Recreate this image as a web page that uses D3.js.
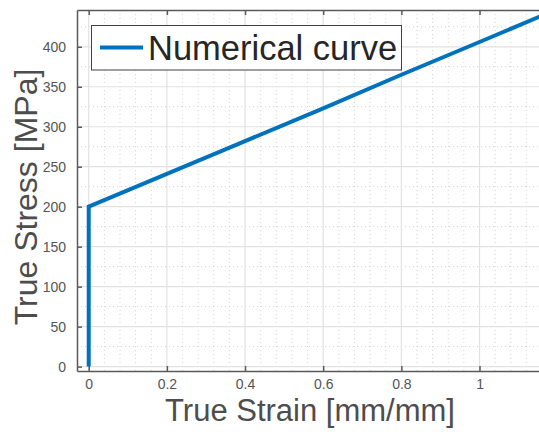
<!DOCTYPE html>
<html>
<head>
<meta charset="utf-8">
<script src="https://cdn.jsdelivr.net/npm/d3@7"></script>
<style>
  html, body { margin: 0; padding: 0; background: #fff; }
  svg { display: block; font-family: "Liberation Sans", Arial, sans-serif; }
</style>
</head>
<body>
<svg id="chart" width="539" height="432"></svg>
<script>
// Stress-strain curve data
const strain = [0, 0, 0.2, 0.4, 0.6, 0.8, 1.0, 1.16];
const stress = [0, 200, 241, 282, 323, 365, 406, 439];

const xTicks = [0, 0.2, 0.4, 0.6, 0.8, 1];
const yTicks = [0, 50, 100, 150, 200, 250, 300, 350, 400];
const xTickLabels = ["0", "0.2", "0.4", "0.6", "0.8", "1"];
const yTickLabels = ["0", "50", "100", "150", "200", "250", "300", "350", "400"];
const legendLabel = "Numerical curve";
const xTitle = "True Strain [mm/mm]";
const yTitle = "True Stress [MPa]";

const svg = d3.select("#chart");
const plotL = 77, plotR = 544, plotT = 10, plotB = 371;

const x = d3.scaleLinear().domain([-0.03, 1.165]).range([plotL, plotR]);
const y = d3.scaleLinear().domain([-5.5, 446]).range([plotB, plotT]);

const xMinor = d3.range(0, 1.17, 0.04).filter(v => !xTicks.some(t => Math.abs(t - v) < 1e-6));
const yMinor = d3.range(0, 446, 25).filter(v => v % 50 !== 0);

const grid = svg.append("g");
// minor grid (dotted)
grid.selectAll("line.xm").data(xMinor).join("line")
  .attr("x1", d => x(d)).attr("x2", d => x(d)).attr("y1", plotT).attr("y2", plotB)
  .attr("stroke", "#d4d4d4").attr("stroke-width", 1).attr("stroke-dasharray", "1,3");
grid.selectAll("line.ym").data(yMinor).join("line")
  .attr("y1", d => y(d)).attr("y2", d => y(d)).attr("x1", plotL).attr("x2", plotR)
  .attr("stroke", "#d4d4d4").attr("stroke-width", 1).attr("stroke-dasharray", "1,3");
// major grid
grid.selectAll("line.xg").data(xTicks).join("line")
  .attr("x1", d => x(d)).attr("x2", d => x(d)).attr("y1", plotT).attr("y2", plotB)
  .attr("stroke", "#e2e2e2").attr("stroke-width", 1.2);
grid.selectAll("line.yg").data(yTicks).join("line")
  .attr("y1", d => y(d)).attr("y2", d => y(d)).attr("x1", plotL).attr("x2", plotR)
  .attr("stroke", "#e2e2e2").attr("stroke-width", 1.2);

// axes
const axisColor = "#5a5a5a";
const xAxis = d3.axisBottom(x).tickValues(xTicks)
  .tickFormat((d, i) => xTickLabels[i]).tickSizeInner(-5).tickSizeOuter(0).tickPadding(8);
const yAxis = d3.axisLeft(y).tickValues(yTicks)
  .tickFormat((d, i) => yTickLabels[i]).tickSizeInner(-5).tickSizeOuter(0).tickPadding(11);
const xTop = d3.axisTop(x).tickValues(xTicks).tickFormat("").tickSizeInner(-5).tickSizeOuter(0);

function styleAxis(g) {
  g.select(".domain").attr("stroke", axisColor).attr("stroke-width", 1.5);
  g.selectAll(".tick line").attr("stroke", axisColor).attr("stroke-width", 1.5);
  g.selectAll(".tick text").attr("fill", "#555").style("font-size", "14px")
    .style("font-family", "'Liberation Sans', Arial, sans-serif");
}
svg.append("g").attr("transform", `translate(0,${plotB})`).call(xAxis).call(styleAxis);
svg.append("g").attr("transform", `translate(${plotL},0)`).call(yAxis).call(styleAxis);
svg.append("g").attr("transform", `translate(0,${plotT})`).call(xTop).call(styleAxis);

// curve
const pts = strain.map((s, i) => [s, stress[i]]);
svg.append("defs").append("clipPath").attr("id", "plotclip")
  .append("rect").attr("x", plotL).attr("y", plotT).attr("width", plotR - plotL).attr("height", plotB - plotT);
svg.append("path").datum(pts)
  .attr("clip-path", "url(#plotclip)")
  .attr("d", d3.line().x(d => x(d[0])).y(d => y(d[1])))
  .attr("fill", "none").attr("stroke", "#0072BD").attr("stroke-width", 4)
  .attr("stroke-linejoin", "miter");

// legend
const lg = svg.append("g");
lg.append("rect").attr("x", 91.5).attr("y", 25.5).attr("width", 310).attr("height", 44.5)
  .attr("fill", "#fff").attr("stroke", "#404040").attr("stroke-width", 1);
lg.append("line").attr("x1", 100).attr("x2", 143).attr("y1", 47.5).attr("y2", 47.5)
  .attr("stroke", "#0072BD").attr("stroke-width", 4);
lg.append("text").attr("x", 148).attr("y", 60).text(legendLabel)
  .attr("fill", "#262626").style("font-size", "34.5px");

// axis titles
svg.append("text").attr("x", 310).attr("y", 421).attr("text-anchor", "middle")
  .attr("fill", "#4d4d4d").style("font-size", "31px").text(xTitle);
svg.append("text").attr("transform", "translate(37,197) rotate(-90)").attr("text-anchor", "middle")
  .attr("fill", "#4d4d4d").style("font-size", "32px").text(yTitle);
</script>
</body>
</html>
